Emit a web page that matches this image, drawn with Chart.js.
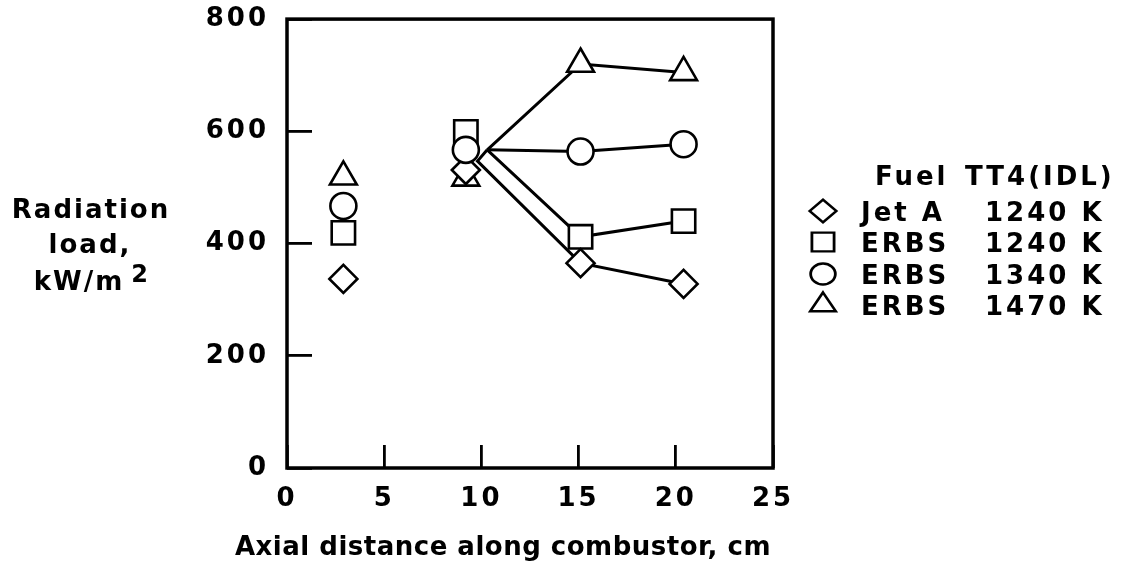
<!DOCTYPE html>
<html>
<head>
<meta charset="utf-8">
<title>Radiation load</title>
<script src="https://cdn.jsdelivr.net/npm/chart.js@4/dist/chart.umd.min.js"></script>
<style>
  html, body { margin: 0; padding: 0; background: #fff; }
  #wrap { width: 1122px; height: 567px; position: relative; }
</style>
</head>
<body>
<div id="wrap"><canvas id="radChart"></canvas></div>
<script>
// measuring stations along the combustor, cm
const stations = [2.9, 9.2, 15.1, 20.4]
// radiation load at each station, kW/m2
const jetA1240 = [337, 531, 365, 328]
const erbs1240 = [419, 599, 412, 440]
const erbs1340 = [467, 567, 564, 577]
const erbs1470 = [519, 517, 720, 705]
// the connecting lines leave from a common point near 10 cm
const lineStartX = [10.3, 9.8]
const lineStartY = [567, 547]
const xTicks = [0, 5, 10, 15, 20, 25]
const yTicks = [0, 200, 400, 600, 800]
const fuels = ["Jet A", "ERBS", "ERBS", "ERBS"]
const temps = ["1240 K", "1240 K", "1340 K", "1470 K"]

const FONT = "'DejaVu Sans', sans-serif"
const INK = "#000"

const styles = [
  { style: "rectRot", radius: 14 },
  { style: "rect", radius: 16.5 },
  { style: "circle", radius: 13 },
  { style: "triangle", radius: 15.5 },
]
const seriesList = [jetA1240, erbs1240, erbs1340, erbs1470]
// front-to-back stacking of the markers where they overlap
const markerOrder = [1, 3, 0, 2]

function pts(xs, ys) {
  return xs.map((x, i) => ({ x: x, y: ys[i] }))
}

function markerSet(i) {
  return {
    data: pts(stations, seriesList[i]),
    showLine: false,
    pointStyle: styles[i].style,
    pointRadius: styles[i].radius,
    pointBorderWidth: 2.6,
    pointBorderColor: INK,
    pointBackgroundColor: "#fff",
    order: markerOrder[i],
  }
}

function lineSet(i) {
  const xs = [lineStartX[0]]
  const ys = [lineStartY[0]]
  if (i === 0) {
    xs.push(lineStartX[1])
    ys.push(lineStartY[1])
  }
  return {
    data: pts(xs.concat(stations.slice(2)), ys.concat(seriesList[i].slice(2))),
    showLine: true,
    borderColor: INK,
    borderWidth: 3,
    pointRadius: 0,
    fill: false,
    order: 10,
  }
}

const datasets = []
for (let i = 0; i < 4; i++) datasets.push(lineSet(i))
for (let i = 0; i < 4; i++) datasets.push(markerSet(i))

function spacedText(ctx, txt, x, y, spacing) {
  ctx.letterSpacing = spacing + "px"
  ctx.fillText(txt, x, y)
}

const framePlugin = {
  id: "frame",
  beforeDraw(chart) {
    chart.ctx.letterSpacing = "3px"
  },
  beforeDatasetsDraw(chart) {
    const { ctx, chartArea: a } = chart
    ctx.save()
    ctx.strokeStyle = INK
    ctx.lineWidth = 3.5
    ctx.strokeRect(a.left, a.top, a.right - a.left, a.bottom - a.top)
    ctx.restore()
  },
  afterDraw(chart) {
    const ctx = chart.ctx
    ctx.save()
    ctx.fillStyle = INK
    ctx.strokeStyle = INK
    ctx.textBaseline = "alphabetic"

    // y axis title, three centred lines
    ctx.font = "bold 26px " + FONT
    ctx.textAlign = "center"
    spacedText(ctx, "Radiation", 91, 218, 2)
    spacedText(ctx, "load,", 90, 253, 2)
    ctx.textAlign = "left"
    ctx.letterSpacing = "2px"
    const unitW = ctx.measureText("kW/m").width
    const unitX = 92 - (unitW + 26) / 2
    ctx.fillText("kW/m", unitX, 290)
    ctx.font = "bold 24px " + FONT
    ctx.fillText("2", unitX + unitW + 7, 282)

    // x axis title
    ctx.font = "bold 26px " + FONT
    ctx.textAlign = "center"
    spacedText(ctx, "Axial distance along combustor, cm", 503, 555, 0.5)

    // legend table
    ctx.textAlign = "left"
    spacedText(ctx, "Fuel", 875, 185, 3)
    spacedText(ctx, "TT4(IDL)", 965, 185, 3)
    const rowY = [221, 252, 284, 315]
    for (let i = 0; i < 4; i++) {
      spacedText(ctx, fuels[i], 861, rowY[i], 3)
      spacedText(ctx, temps[i], 985, rowY[i], 3)
      ctx.save()
      ctx.translate(823, rowY[i] - 10)
      ctx.scale(1, 0.85)
      ctx.fillStyle = "#fff"
      ctx.lineWidth = 2.8
      Chart.helpers.drawPoint(ctx, {
        pointStyle: styles[i].style,
        radius: styles[i].radius * 0.95,
        rotation: 0,
        borderWidth: 2.8,
      }, 0, 0)
      ctx.restore()
    }
    ctx.restore()
  },
}

const tickFont = { family: FONT, size: 26, weight: "bold" }

new Chart(document.getElementById("radChart"), {
  type: "scatter",
  data: { datasets: datasets },
  options: {
    responsive: true,
    maintainAspectRatio: false,
    animation: false,
    layout: { padding: { top: 19, right: 349, left: 0, bottom: 0 } },
    plugins: {
      legend: { display: false },
      tooltip: { enabled: false },
    },
    scales: {
      x: {
        type: "linear",
        min: 0,
        max: 25,
        afterBuildTicks: (s) => { s.ticks = xTicks.map((v) => ({ value: v })) },
        afterFit: (s) => {
          s.height = 99
          s.paddingLeft = 0
          s.paddingRight = 0
        },
        border: { display: false },
        grid: { drawOnChartArea: false, drawTicks: true, tickLength: -23, lineWidth: 2.8, color: INK },
        ticks: { color: INK, font: tickFont, padding: 39, maxRotation: 0, autoSkip: false },
      },
      y: {
        type: "linear",
        min: 0,
        max: 800,
        afterBuildTicks: (s) => { s.ticks = yTicks.map((v) => ({ value: v })) },
        afterFit: (s) => {
          s.width = 287
          s.paddingTop = 0
          s.paddingBottom = 0
        },
        border: { display: false },
        grid: { drawOnChartArea: false, drawTicks: true, tickLength: -25, lineWidth: 2.8, color: INK },
        ticks: { color: INK, font: tickFont, padding: 43 },
      },
    },
  },
  plugins: [framePlugin],
})
</script>
</body>
</html>
